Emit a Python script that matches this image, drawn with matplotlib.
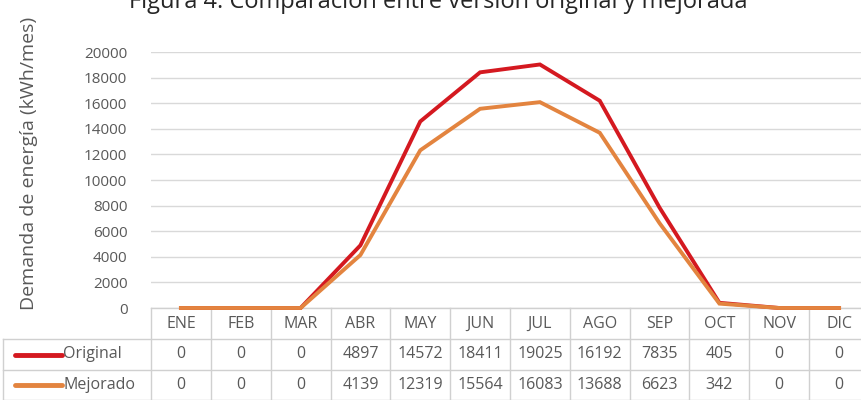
import matplotlib
matplotlib.use('Agg')
import matplotlib.pyplot as plt
import matplotlib.transforms as mtransforms

# --- Data ---
months = ['ENE', 'FEB', 'MAR', 'ABR', 'MAY', 'JUN', 'JUL', 'AGO', 'SEP', 'OCT', 'NOV', 'DIC']
original = [0, 0, 0, 4897, 14572, 18411, 19025, 16192, 7835, 405, 0, 0]
mejorado = [0, 0, 0, 4139, 12319, 15564, 16083, 13688, 6623, 342, 0, 0]
series_names = ['Original', 'Mejorado']
yticks = list(range(0, 20001, 2000))

plt.rcParams['font.family'] = ['Open Sans', 'DejaVu Sans']
txt_col = '#595959'
grid_col = '#D9D9D9'
colors = ['#D41920', '#E3843F']

W, H = 862, 400
fig = plt.figure(figsize=(W / 100, H / 100), dpi=100)

# plot area in pixels: left 151, width ~718 (runs past the right edge), y0 at 308, y20000 at 52
ax = fig.add_axes([151 / W, (H - 308) / H, 718 / W, 256 / H])
ax.set_xlim(-0.5, 11.5)
ax.set_ylim(0, 20000)
ax.set_yticks(yticks)
ax.set_yticklabels([str(v) for v in yticks])
ax.set_xticks([])
ax.tick_params(axis='y', length=0, pad=17, labelsize=11, labelcolor=txt_col)
for s in ax.spines.values():
    s.set_visible(False)
ax.grid(axis='y', color=grid_col, lw=1)
ax.set_axisbelow(True)

x = list(range(len(months)))
for vals, c in zip([original, mejorado], colors):
    ax.plot(x, vals, color=c, lw=2.8, solid_joinstyle='miter', clip_on=False, zorder=3)

ax.set_ylabel('Demanda de energía (kWh/mes)', fontsize=14, color=txt_col, labelpad=0)
ax.yaxis.set_label_coords((38 - 151) / 718, (308 - 163) / 256)

# --- Data table below the axis ---
px = lambda p: (p - 151) / 718          # pixel x -> axes fraction
py = lambda p: (308 - p) / 256          # pixel y -> axes fraction
trans = mtransforms.blended_transform_factory(ax.transData, ax.transAxes)
line_col = '#D0D0D0'
row_tops = [308, 339, 370, 400]
fs = 11.5

# horizontal rules
ax.plot([-0.5, 11.5], [0, 0], transform=trans, color=line_col, lw=1, clip_on=False)
for yy in row_tops[1:]:
    ax.plot([px(3), 1.0], [py(yy), py(yy)], transform=ax.transAxes, color=line_col,
            lw=1, clip_on=False)
# vertical rules
for i in range(len(months) + 1):
    ax.plot([i - 0.5, i - 0.5], [0, py(400)], transform=trans, color=line_col, lw=1,
            clip_on=False)
ax.plot([px(3), px(3)], [py(339), py(400)], transform=ax.transAxes, color=line_col, lw=1,
        clip_on=False)

# header
for i, m in enumerate(months):
    ax.text(i, py(324), m, transform=trans, ha='center', va='center', fontsize=fs,
            color=txt_col, clip_on=False)

# rows
for r, (name, vals, c) in enumerate(zip(series_names, [original, mejorado], colors)):
    yc = py((row_tops[r + 1] + row_tops[r + 2]) / 2)
    ax.plot([px(15), px(62)], [yc, yc], transform=ax.transAxes, color=c, lw=3.5,
            solid_capstyle='round', clip_on=False)
    ax.text(px(63), yc, name, transform=ax.transAxes, ha='left', va='center', fontsize=fs,
            color=txt_col, clip_on=False)
    for i, v in enumerate(vals):
        ax.text(i, yc, str(v), transform=trans, ha='center', va='center', fontsize=fs,
                color=txt_col, clip_on=False)

# title, cut off at the top edge as in the source image
fig.text(438 / W, 1 - 8 / H, 'Figura 4. Comparación entre versión original y mejorada',
         ha='center', va='baseline', fontsize=17, color='#262626')

fig.savefig('out.png', dpi=100)
